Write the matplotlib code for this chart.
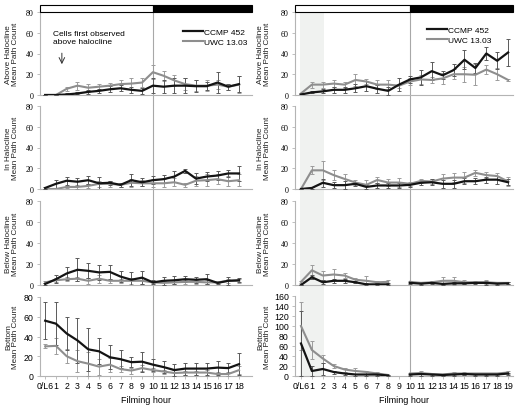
import numpy as np
import matplotlib
matplotlib.use('Agg')
import matplotlib.pyplot as plt
from matplotlib.patches import Rectangle
import matplotlib.transforms as mtransforms

nan = np.nan

#---------------------DATA--------------------#
hours_left = list(range(19))
hours_right = list(range(20))
labels_left = ['0/L6'] + [str(h) for h in range(1, 19)]
labels_right = ['0/L6'] + [str(h) for h in range(1, 20)]
row_titles = ['Above Halocline\nMean Path Count', 'In Halocline\nMean Path Count',
              'Below Halocline\nMean Path Count', 'Bottom\nMean Path Count']

# left experiment (hours 0..18)
above_ccmp_L = [0, 0, 0.5, 1.5, 3, 4, 5.5, 6.5, 5, 4, 9, 8, 9, 9, 8.5, 8.5, 12, 8, 10.5]
above_ccmp_L_err = [0, 0, 1, 1, 2, 2, 3, 3, 3, 3, 7, 6, 7, 7, 6, 4, 10, 3, 8]
above_uwc_L = [0, 0, 6, 9, 7, 8, 9, 10.5, 11, 12, 22, 18.5, 14, 10.5, 9, 9, 10, 8, 10]
above_uwc_L_err = [0, 0, 2, 4, 4, 3, 3, 4, 5, 4, 7, 5, 5, 6, 5, 5, 4, 3, 8]

in_ccmp_L = [1, 5, 8, 7, 8.5, 5.5, 6, 4, 8.5, 6.5, 8.5, 9.5, 12, 17.5, 10, 12, 13, 15, 15]
in_ccmp_L_err = [1, 4, 4, 4, 4, 6, 2, 2, 6, 4, 4, 4, 5, 2, 5, 4, 4, 3, 7]
in_uwc_L = [0, 0, 2, 2, 3, 5, 5, 4, 6, 5.5, 5.5, 5.5, 6.5, 4, 8, 8.5, 9.5, 7.5, 8.5]
in_uwc_L_err = [0, 1, 1, 2, 2, 3, 3, 2, 4, 3, 4, 4, 4, 2, 5, 6, 5, 5, 6]

below_ccmp_L = [1, 5.5, 11, 14.5, 13.5, 12, 12.5, 8, 5, 7, 2.5, 4, 4.5, 5.5, 5, 5.5, 2, 4, 4.5]
below_ccmp_L_err = [1, 4, 6, 11, 7, 7, 7, 5, 7, 6, 2, 4, 4, 3, 3, 5, 1, 4, 2]
below_uwc_L = [2.5, 4.5, 5.5, 6, 4, 6, 4, 4, 4, 4, 2.5, 2, 2.5, 3, 3, 2.5, 2.5, 4, 4]
below_uwc_L_err = [1, 2, 2, 2, 3, 4, 2, 2, 3, 3, 1, 2, 2, 2, 2, 2, 1, 2, 2]

bottom_ccmp_L = [56, 53, 43, 36, 27, 25, 19, 17, 14, 14.5, 11.5, 9, 6, 7.5, 7.5, 7.5, 8.5, 8, 12]
bottom_ccmp_L_err = [19, 22, 17, 23, 22, 13, 12, 9, 5, 10, 6, 6, 6, 6, 6, 6, 7, 5, 11]
bottom_uwc_L = [30, 30.5, 20, 15, 12.5, 9.5, 11.5, 7, 5.5, 8, 6, 4.5, 3, 3.5, 3.5, 3.5, 2, 2, 6]
bottom_uwc_L_err = [2, 8, 7, 11, 12, 8, 7, 3, 3, 3, 2, 2, 3, 2, 2, 3, 2, 2, 4]

# right experiment (hours 0..19)
above_ccmp_R = [0.5, 2.5, 3.5, 5, 5, 6.5, 8.5, 6, 4, 10, 15, 17, 23, 19, 24, 34, 26, 40, 33, 41]
above_ccmp_R_err = [0, 1, 2, 3, 3, 4, 5, 4, 4, 6, 3, 7, 9, 4, 6, 9, 5, 6, 8, 13]
above_uwc_R = [1.5, 10, 10, 11, 10, 14.5, 13, 10, 10, 9, 13, 15, 14.5, 16, 20, 20, 19.5, 24.5, 20, 14.5]
above_uwc_R_err = [0, 3, 3, 3, 3, 6, 2, 4, 4, 2, 3, 4, 3, 5, 5, 7, 10, 4, 6, 1]

in_ccmp_R = [0, 1, 6, 3.7, 3.7, 5, 2, 3.4, 3.4, 3.4, 4, 6, 6.5, 5, 5, 7.5, 7.5, 9, 9, 6.5]
in_ccmp_R_err = [0, 1, 4, 3, 4, 2, 2, 2, 2, 2, 2, 2, 3, 4, 4, 3, 3, 3, 4, 3]
in_uwc_R = [0, 18, 18, 13.4, 9.7, 6.2, 4, 8.7, 6.2, 6.2, 5, 7.8, 7.2, 10, 11, 11, 15.6, 13.4, 12.5, 7.2]
in_uwc_R_err = [0, 4, 9, 5, 5, 2, 5, 3, 3, 4, 2, 2, 2, 4, 4, 5, 3, 3, 3, 4]

below_ccmp_R = [0, 7.4, 2.6, 4, 4, 2.6, 0.6, 0.6, 0.6, nan, 2, 1.3, 2, 1, 1.6, 1.6, 2, 2, 1.3, 1.6]
below_ccmp_R_err = [0, 2, 2, 2, 2, 1, 1, 1, 1, nan, 1, 1, 1, 1, 1, 1, 1, 2, 1, 1]
below_uwc_R = [3, 14, 9, 10, 9, 5, 4, 2.6, 3, nan, 3, 2, 2.6, 4, 4, 2.6, 2.6, 2.6, 2, 2]
below_uwc_R_err = [1, 5, 4, 5, 2, 2, 5, 1, 2, nan, 1, 1, 1, 4, 4, 2, 1, 2, 1, 1]

bottom_ccmp_R = [65, 10, 14, 8, 5, 3, 3, 3, 1, nan, 3, 4, 3, 2, 3, 4, 3, 3, 3, 5]
bottom_ccmp_R_err = [65, 10, 12, 3, 2, 2, 2, 2, 1, nan, 2, 3, 2, 2, 2, 2, 2, 2, 2, 2]
bottom_uwc_R = [100, 52, 35, 20, 13, 10, 8, 5, 2, nan, 5, 6, 4, 3, 5, 5, 5, 5, 5, 7]
bottom_uwc_R_err = [48, 18, 8, 4, 4, 6, 3, 3, 1, nan, 2, 5, 2, 2, 3, 3, 2, 2, 2, 3]

#---------------------LAYOUT--------------------#
W, H = 516, 406
row_top_px = [13, 107, 202, 298]
row_bot_px = [96, 190, 286, 377]
col_px = [(40, 252), (295, 513)]
col_xlim = [(-0.48, 19.2), (-0.55, 19.45)]
label_x = [-0.098, -0.108]

black = '#141414'
grey = '#8e8e8e'
axis_grey = '#b4b4b4'


def draw_panel(ax, x, ccmp, ccmp_err, uwc, uwc_err, xlim, ymax, serif):
    ax.errorbar(x, uwc, yerr=uwc_err, fmt='none', ecolor='#9c9c9c',
                elinewidth=0.7, capsize=1.6, capthick=0.7, zorder=3)
    ax.errorbar(x, ccmp, yerr=ccmp_err, fmt='none', ecolor='#5a5a5a',
                elinewidth=0.7, capsize=1.6, capthick=0.7, zorder=3)
    l2, = ax.plot(x, uwc, color=grey, lw=1.5, zorder=4, label='UWC 13.03')
    l1, = ax.plot(x, ccmp, color=black, lw=1.6, zorder=5, label='CCMP 452')
    ax.set_xlim(*xlim)
    ax.set_ylim(0, ymax)
    for s in ['top', 'right']:
        ax.spines[s].set_visible(False)
    for s in ['left', 'bottom']:
        ax.spines[s].set_color(axis_grey)
        ax.spines[s].set_linewidth(0.8)
    ax.tick_params(axis='y', length=2.5, width=0.6, color=axis_grey, pad=2,
                   labelsize=5.8 if serif else 6.3)
    return l1, l2


fig = plt.figure(figsize=(W / 100, H / 100), dpi=100)
panels = [
    [(above_ccmp_L, above_ccmp_L_err, above_uwc_L, above_uwc_L_err),
     (in_ccmp_L, in_ccmp_L_err, in_uwc_L, in_uwc_L_err),
     (below_ccmp_L, below_ccmp_L_err, below_uwc_L, below_uwc_L_err),
     (bottom_ccmp_L, bottom_ccmp_L_err, bottom_uwc_L, bottom_uwc_L_err)],
    [(above_ccmp_R, above_ccmp_R_err, above_uwc_R, above_uwc_R_err),
     (in_ccmp_R, in_ccmp_R_err, in_uwc_R, in_uwc_R_err),
     (below_ccmp_R, below_ccmp_R_err, below_uwc_R, below_uwc_R_err),
     (bottom_ccmp_R, bottom_ccmp_R_err, bottom_uwc_R, bottom_uwc_R_err)],
]

for c in range(2):
    x = hours_left if c == 0 else hours_right
    xl = col_xlim[c]
    for r in range(4):
        top = row_top_px[r] - (1 if (c == 1 and r == 3) else 0)
        bot = row_bot_px[r]
        x0, x1 = col_px[c]
        ax = fig.add_axes([x0 / W, 1 - bot / H, (x1 - x0) / W, (bot - top) / H])
        ymax = 160 if (c == 1 and r == 3) else 80
        d = panels[c][r]
        l1, l2 = draw_panel(ax, x, d[0], d[1], d[2], d[3], xl, ymax, r < 3)
        ax.set_yticks(np.arange(0, ymax + 1, 20))
        for t in ax.get_yticklabels():
            t.set_family('Liberation Serif' if r < 3 else 'Liberation Sans')

        # gap to the panel below, as a fraction of this panel's height
        ext = 0.0
        if r < 3:
            ext = (row_top_px[r + 1] - bot) / (bot - top)
        ax.axvline(10, ymin=-ext, ymax=1, color='#a8a8a8', lw=0.8,
                   clip_on=False, zorder=2)
        if c == 1:
            trans = mtransforms.blended_transform_factory(ax.transData, ax.transAxes)
            ax.add_patch(Rectangle((-0.1, -ext), 2.2, 1 + ext, transform=trans,
                                   facecolor='#f0f2f0', edgecolor='none',
                                   clip_on=False, zorder=0))

        ax.set_ylabel(row_titles[r], fontsize=5.9, family='Liberation Sans',
                      color='#222222', linespacing=1.05)
        ax.yaxis.set_label_coords(label_x[c], 0.5)

        if r == 3:
            ax.set_xticks(x)
            ax.set_xticklabels(labels_left if c == 0 else labels_right,
                               fontsize=6.3, family='Liberation Sans')
            ax.tick_params(axis='x', length=2, width=0.6, color=axis_grey, pad=1.5)
            ax.set_xlabel('Filming hour', fontsize=6.5, family='Liberation Sans',
                          labelpad=4)
        else:
            ax.set_xticks([])

        if r == 0:
            # light / dark bar
            ax.add_patch(Rectangle((xl[0], 80), 10 - xl[0], 7, facecolor='white',
                                   edgecolor='black', lw=0.8, clip_on=False, zorder=6))
            ax.add_patch(Rectangle((10, 80), xl[1] - 10, 7, facecolor='black',
                                   edgecolor='black', lw=0.8, clip_on=False, zorder=6))
            anchor = (0.64, 0.9) if c == 0 else (0.57, 0.92)
            ax.legend(handles=[l1, l2], loc='upper left', bbox_to_anchor=anchor,
                      frameon=False, handlelength=2.4,
                      handletextpad=0.1, labelspacing=0.3,
                      prop={'family': 'Liberation Sans', 'size': 6})
            if c == 0:
                ax.text(0.7, 63, 'Cells first observed\nabove halocline',
                        fontsize=6, family='Liberation Sans', va='top',
                        linespacing=1.3)
                ax.annotate('', xy=(1.55, 27), xytext=(1.55, 43),
                            arrowprops=dict(arrowstyle='->', lw=0.7,
                                            color='#333333'))

plt.savefig('out.png', dpi=100)
